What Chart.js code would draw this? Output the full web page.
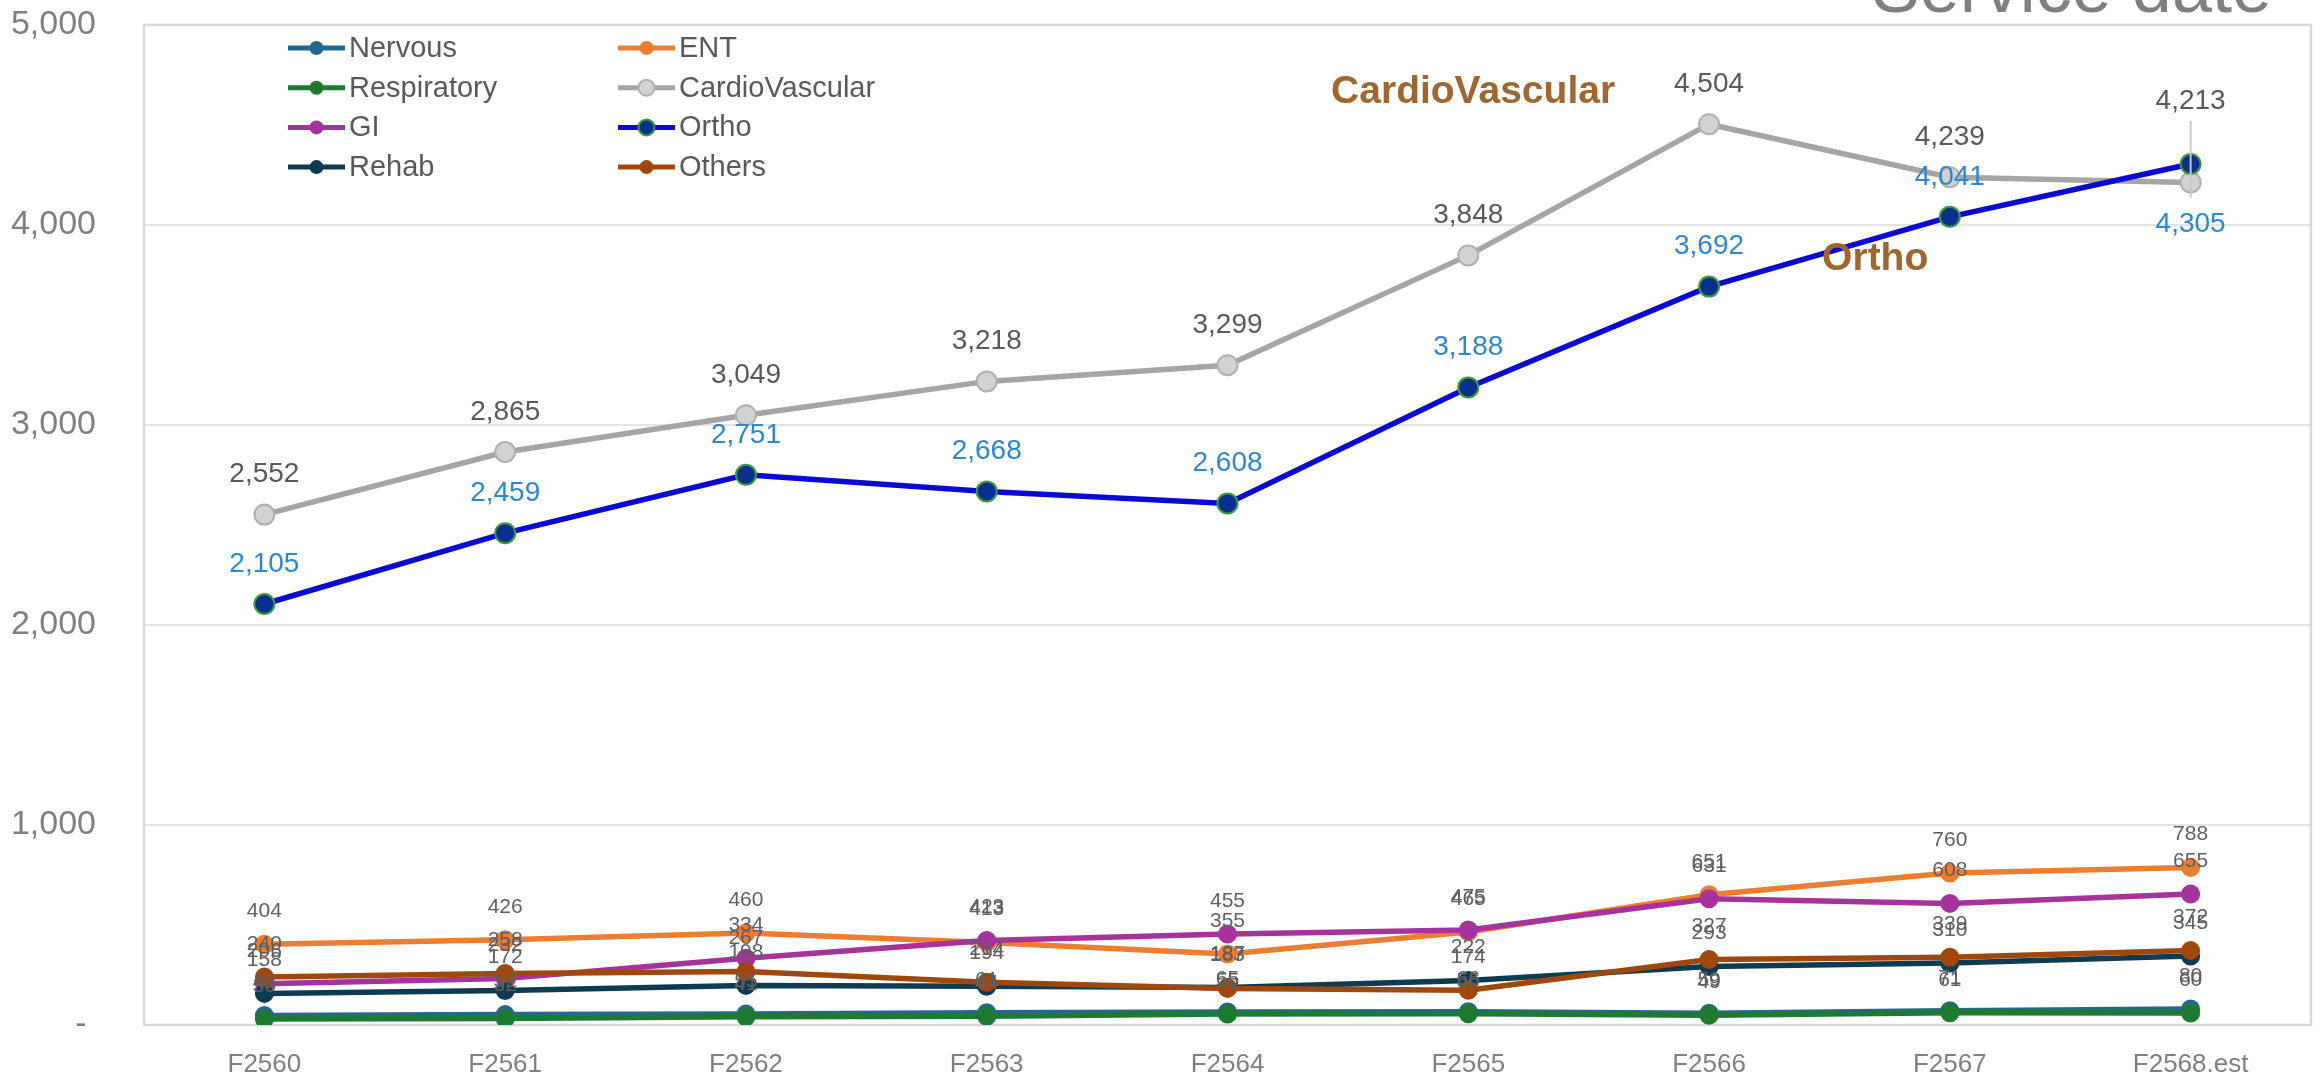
<!DOCTYPE html>
<html>
<head>
<meta charset="utf-8">
<script src="https://cdn.jsdelivr.net/npm/chart.js@4.4.1/dist/chart.umd.min.js"></script>
<style>
  html, body { margin: 0; padding: 0; background: #fff; overflow: hidden; }
  canvas { display: block; }
</style>
</head>
<body>
<canvas id="myChart" width="2323" height="1078"></canvas>
<script>
// fiscal years on the x axis
var years = ['F2560', 'F2561', 'F2562', 'F2563', 'F2564', 'F2565', 'F2566', 'F2567', 'F2568.est'];

// service counts per department
var nervous     = [48, 52, 55, 61, 65, 66, 59, 71, 80];
var ent         = [404, 426, 460, 413, 355, 465, 651, 760, 788];
var respiratory = [30, 32, 41, 44, 55, 56, 49, 61, 60];
var cardio      = [2552, 2865, 3049, 3218, 3299, 3848, 4504, 4239, 4213];
var gi          = [206, 232, 334, 423, 455, 475, 631, 608, 655];
var ortho       = [2105, 2459, 2751, 2668, 2608, 3188, 3692, 4041, 4305];
var rehab       = [158, 172, 198, 194, 187, 222, 293, 310, 345];
var others      = [240, 258, 267, 214, 183, 174, 327, 339, 372];

var yTicks = [0, 1000, 2000, 3000, 4000, 5000];

var FONT = "'Liberation Sans', Arial, sans-serif";
Chart.defaults.font.family = FONT;

function line(label, data, color, fill, edge, radius, order) {
  return {
    label: label,
    data: data,
    borderColor: color,
    backgroundColor: color,
    borderWidth: 5.5,
    pointRadius: radius,
    pointBackgroundColor: fill,
    pointBorderColor: edge,
    pointBorderWidth: 2,
    tension: 0,
    order: order
  };
}

var datasets = [
  line('Nervous', nervous, '#24678f', '#24678f', '#24678f', 8.5, 8),
  line('ENT', ent, '#ed7d31', '#ed7d31', '#ed7d31', 8.5, 7),
  line('Respiratory', respiratory, '#1e7a30', '#1e7a30', '#1e7a30', 8.5, 6),
  line('CardioVascular', cardio, '#a5a5a5', '#d2d2d2', '#b0b0b0', 10, 5),
  line('GI', gi, '#a6339c', '#a6339c', '#a6339c', 8.5, 4),
  line('Ortho', ortho, '#0a0ad2', '#0b2f8c', '#3c9a3c', 10, 3),
  line('Rehab', rehab, '#0e3a52', '#0e3a52', '#0e3a52', 8.5, 2),
  line('Others', others, '#9e480e', '#9e480e', '#9e480e', 8.5, 1)
];

// data label look per series index
var labelStyle = {
  3: { size: 28, color: '#595959', dy: -40 },
  5: { size: 28, color: '#2e86cf', dy: -40 }
};
var smallLabel = { size: 21, color: '#5f5f5f', dy: -33 };
// moved labels: "series:point"
var labelMoves = { '3:8': { dy: -81, leader: true }, '5:8': { dy: 60 } };

var plotFrame = {
  id: 'plotFrame',
  beforeDatasetsDraw: function(chart) {
    var a = chart.chartArea, c = chart.ctx;
    c.save();
    c.strokeStyle = '#d9d9d9';
    c.lineWidth = 2.5;
    c.strokeRect(a.left, a.top, a.right - a.left, a.bottom - a.top);
    c.restore();
  }
};

var valueLabels = {
  id: 'valueLabels',
  afterDatasetsDraw: function(chart) {
    var c = chart.ctx;
    c.save();
    c.textAlign = 'center';
    c.textBaseline = 'middle';
    chart.data.datasets.forEach(function(ds, i) {
      var st = labelStyle[i] || smallLabel;
      var meta = chart.getDatasetMeta(i);
      meta.data.forEach(function(pt, j) {
        var mv = labelMoves[i + ':' + j] || {};
        var dy = mv.dy !== undefined ? mv.dy : st.dy;
        var y = pt.y + dy;
        if (mv.leader) {
          c.strokeStyle = '#c8c8c8';
          c.lineWidth = 2;
          c.beginPath();
          c.moveTo(pt.x, y + st.size * 0.7);
          c.lineTo(pt.x, pt.y + 15);
          c.stroke();
        }
        c.font = st.size + 'px ' + FONT;
        c.fillStyle = st.color;
        c.fillText(ds.data[j].toLocaleString('en-US'), pt.x, y);
      });
    });
    c.restore();
  }
};

var extras = {
  id: 'extras',
  afterDraw: function(chart) {
    var c = chart.ctx, xs = chart.scales.x, ys = chart.scales.y;
    c.save();
    // series name tags
    c.font = 'bold 39px ' + FONT;
    c.fillStyle = '#9e6630';
    c.textAlign = 'center';
    c.textBaseline = 'middle';
    c.fillText('CardioVascular', xs.getPixelForValue(5.02), ys.getPixelForValue(4665));
    c.fillText('Ortho', xs.getPixelForValue(6.69), ys.getPixelForValue(3830));

    // title, mostly cut off at the top
    c.font = '72px ' + FONT;
    c.fillStyle = '#808080';
    c.textAlign = 'right';
    c.textBaseline = 'alphabetic';
    c.fillText('Service date', 2272, 12);

    // legend, two columns inside the plot
    c.font = '29px ' + FONT;
    c.textAlign = 'left';
    c.textBaseline = 'middle';
    chart.data.datasets.forEach(function(ds, i) {
      var x = i % 2 === 0 ? 288 : 618;
      var y = 48 + Math.floor(i / 2) * 39.7;
      c.strokeStyle = ds.borderColor;
      c.lineWidth = 5;
      c.beginPath();
      c.moveTo(x, y);
      c.lineTo(x + 57, y);
      c.stroke();
      c.beginPath();
      c.arc(x + 28.5, y, ds.pointRadius > 9 ? 8 : 6, 0, Math.PI * 2);
      c.fillStyle = ds.pointBackgroundColor;
      c.fill();
      c.lineWidth = 2;
      c.strokeStyle = ds.pointBorderColor;
      c.stroke();
      c.fillStyle = '#595959';
      c.fillText(ds.label, x + 61, y + 1);
    });
    c.restore();
  }
};

var ctx = document.getElementById('myChart').getContext('2d');
var myChart = new Chart(ctx, {
  type: 'line',
  data: { labels: years, datasets: datasets },
  options: {
    responsive: false,
    animation: false,
    devicePixelRatio: 1,
    layout: { padding: { top: 25, right: 5, left: 0, bottom: 0 } },
    plugins: { legend: { display: false }, tooltip: { enabled: false } },
    scales: {
      x: {
        offset: true,
        grid: { display: false, drawTicks: false },
        border: { display: false },
        ticks: { color: '#7f7f7f', font: { size: 26 }, padding: 24, maxRotation: 0, autoSkip: false },
        afterFit: function(s) { s.height = 53; }
      },
      y: {
        min: 0,
        max: 5000,
        afterBuildTicks: function(s) { s.ticks = yTicks.map(function(v) { return { value: v }; }); },
        ticks: {
          color: '#7f7f7f',
          font: { size: 34 },
          padding: 48,
          callback: function(v) { return v === 0 ? '- ' : v.toLocaleString('en-US'); }
        },
        grid: { color: '#e4e4e4', lineWidth: 2, drawTicks: false },
        border: { display: false },
        afterFit: function(s) {
          // the big label gap should not push the plot in from top and bottom
          s.width = 144;
          s.paddingTop = 0;
          s.paddingBottom = 0;
        }
      }
    }
  },
  plugins: [plotFrame, valueLabels, extras]
});
</script>
</body>
</html>
